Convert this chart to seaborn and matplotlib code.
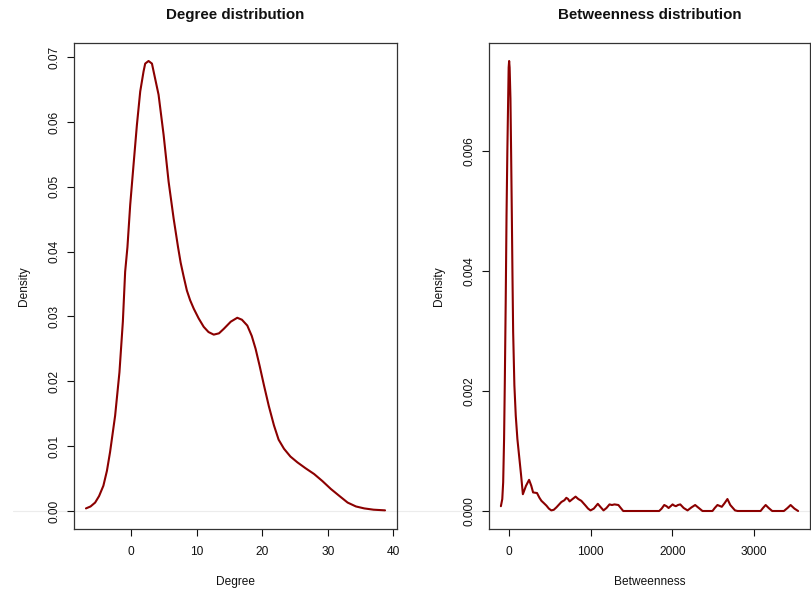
import numpy as np
import pandas as pd
import matplotlib
matplotlib.use("Agg")
import matplotlib.pyplot as plt
import seaborn as sns

# Kernel density curves
degree_x = [-6.9, -6.2, -5.5, -4.9, -4.24, -3.7, -3.22, -2.45, -1.79, -1.27,
            -0.92, -0.57, -0.15, 0.36, 0.87, 1.38, 1.89, 2.14, 2.65, 3.17,
            3.42, 4.18, 4.95, 5.71, 6.48, 7.15, 7.55, 8.0, 8.5, 9.0,
            9.55, 10.3, 11.07, 11.8, 12.6, 13.4, 14.14, 15.2, 16.19, 16.9,
            17.72, 18.4, 18.99, 19.6, 20.26, 21.0, 21.79, 22.5, 23.32, 24.3,
            25.37, 26.6, 27.92, 29.2, 30.47, 31.8, 33.03, 34.3, 35.57, 37.0,
            38.74]
degree_y = [0.0004, 0.0007, 0.0013, 0.0023, 0.0039, 0.0062, 0.0091, 0.0147, 0.0214, 0.0292,
            0.0369, 0.0407, 0.0472, 0.0534, 0.0595, 0.0647, 0.0678, 0.0690, 0.0694, 0.0690,
            0.0678, 0.0642, 0.0580, 0.0508, 0.0451, 0.0407, 0.0383, 0.0362, 0.0340, 0.0325,
            0.0312, 0.0297, 0.0284, 0.0276, 0.0272, 0.0274, 0.0281, 0.0292, 0.0298, 0.0295,
            0.0286, 0.0270, 0.0250, 0.0224, 0.0194, 0.0162, 0.0132, 0.0110, 0.0096, 0.0084,
            0.0075, 0.0066, 0.0057, 0.0046, 0.0034, 0.0023, 0.0013, 0.0007, 0.0004, 0.0002,
            0.0001]

betw_x = [-97, -80, -69, -58, -49, -38, -28, -18, -8, -2,
          4, 10, 20, 28, 37, 45, 53, 68, 85, 105,
          126, 150, 172, 210, 248, 275, 297, 345, 375, 399,
          430, 460, 490, 520, 550, 582, 643, 680, 704, 725,
          744, 780, 817, 850, 887, 939, 970, 1000, 1040, 1089,
          1120, 1159, 1195, 1232, 1262, 1293, 1341, 1370, 1400, 1840,
          1870, 1902, 1930, 1955, 1980, 2004, 2025, 2045, 2070, 2098,
          2140, 2187, 2235, 2280, 2325, 2370, 2492, 2520, 2553, 2606,
          2640, 2675, 2710, 2768, 2800, 3081, 3110, 3143, 3180, 3223,
          3366, 3410, 3448, 3495, 3540]
betw_y = [0.00008, 0.00020, 0.00048, 0.00120, 0.00215, 0.00350, 0.00493, 0.00600, 0.00688, 0.00740,
          0.00751, 0.00740, 0.00688, 0.00600, 0.00493, 0.00390, 0.00299, 0.00210, 0.00159, 0.00120,
          0.00092, 0.00060, 0.00028, 0.00042, 0.00052, 0.00042, 0.00031, 0.00030, 0.00022, 0.00017,
          0.00013, 0.00009, 0.00004, 0.00001, 0.00002, 0.00006, 0.00015, 0.00018, 0.00022, 0.00020,
          0.00016, 0.00020, 0.00024, 0.00020, 0.00017, 0.00009, 0.00004, 0.00001, 0.00004, 0.00012,
          0.00007, 0.00001, 0.00005, 0.00011, 0.00010, 0.00011, 0.00010, 0.00005, 0.0, 0.0,
          0.00004, 0.00010, 0.00008, 0.00005, 0.00008, 0.00011, 0.00009, 0.00008, 0.00010, 0.00011,
          0.00005, 0.00001, 0.00006, 0.00010, 0.00005, 0.0, 0.0, 0.00005, 0.00010, 0.00007,
          0.00013, 0.00020, 0.00010, 0.00001, 0.0, 0.0, 0.00005, 0.00010, 0.00005, 0.0,
          0.0, 0.00005, 0.00010, 0.00004, 0.0]

degree_ticks_x = [0, 10, 20, 30, 40]
degree_ticks_y = [0.00, 0.01, 0.02, 0.03, 0.04, 0.05, 0.06, 0.07]
betw_ticks_x = [0, 1000, 2000, 3000]
betw_ticks_y = [0.000, 0.002, 0.004, 0.006]

sns.set_theme(style="ticks")
plt.rcParams['font.family'] = ['Liberation Sans', 'DejaVu Sans']

fig = plt.figure(figsize=(8.11, 5.90), dpi=100)
ax1 = fig.add_axes([74 / 811, 61 / 590, 323 / 811, 486 / 590])
ax2 = fig.add_axes([489 / 811, 61 / 590, 321 / 811, 486 / 590])


def r_range(vals):
    # same 4% padding that R uses for plot ranges
    lo, hi = min(vals), max(vals)
    pad = (hi - lo) * 0.04
    return lo - pad, hi + pad


def density_panel(ax, xs, ys, title, xlabel, xticks, yticks, yfmt, zl):
    df = pd.DataFrame({"x": xs, "y": ys})
    ax.axhline(0, xmin=zl[0], xmax=zl[1], color="#ececec", lw=0.8, clip_on=False, zorder=0)
    sns.lineplot(data=df, x="x", y="y", ax=ax, color="#8B0000", linewidth=1.5, sort=False)
    ax.set_xlim(*r_range(xs))
    ax.set_ylim(*r_range([0] + list(ys)))
    ax.set_xticks(xticks)
    ax.set_yticks(yticks)
    ax.set_yticklabels([yfmt.format(v) for v in yticks], rotation=90, va="center")
    ax.tick_params(axis="both", length=5, width=0.8, labelsize=8.6, colors="#111111")
    ax.tick_params(axis="x", pad=7)
    ax.tick_params(axis="y", pad=5)
    for s in ax.spines.values():
        s.set_visible(True)
        s.set_color("#333333")
        s.set_linewidth(0.9)
    ax.set_xlabel(xlabel, fontsize=8.6, labelpad=13, color="#111111")
    ax.set_ylabel("Density", fontsize=8.6, labelpad=13, color="#111111")
    ax.set_title(title, fontsize=10.9, fontweight="bold", pad=17, color="#111111")


density_panel(ax1, degree_x, degree_y, "Degree distribution", "Degree",
              degree_ticks_x, degree_ticks_y, "{:.2f}", (-0.19, 1.04))
density_panel(ax2, betw_x, betw_y, "Betweenness distribution", "Betweenness",
              betw_ticks_x, betw_ticks_y, "{:.3f}", (-0.25, 1.0))

fig.savefig("out.png", dpi=100)
